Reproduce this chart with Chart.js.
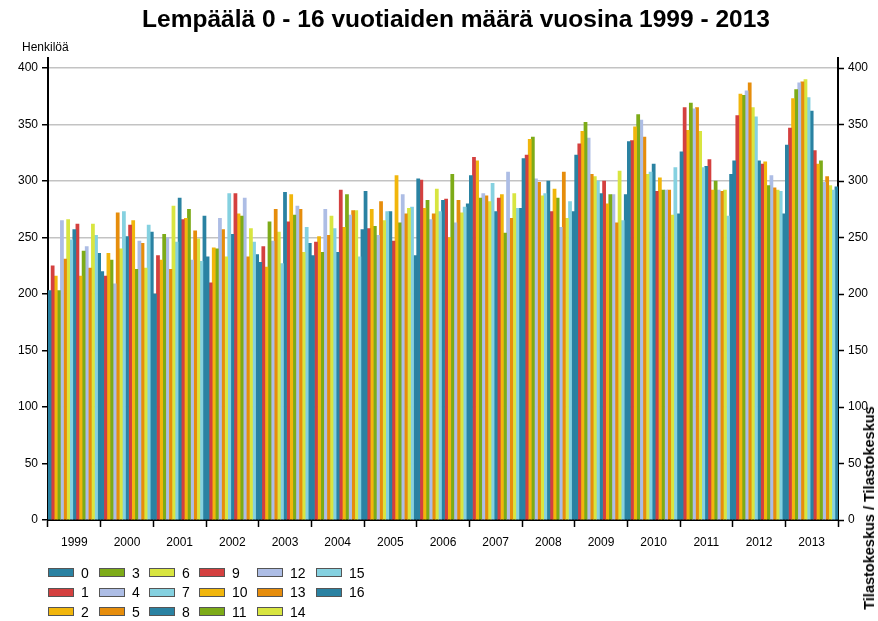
<!DOCTYPE html>
<html>
<head>
<meta charset="utf-8">
<script src="https://cdn.jsdelivr.net/npm/chart.js@4.4.0/dist/chart.umd.min.js"></script>
<style>
  body { margin: 0; background: #fff; font-family: 'Liberation Sans', Arial, sans-serif; color: #000; }
  #wrap { position: relative; width: 878px; height: 621px; overflow: hidden; }
  #chart { position: absolute; left: 0; top: 0; }
  #title { position: absolute; left: 0; top: 5px; width: 912px; text-align: center; font-weight: bold; font-size: 24.5px; }
  #unit { position: absolute; left: 22px; top: 40px; font-size: 12px; }
  #source { position: absolute; left: 869px; top: 508px; font-weight: bold; font-size: 14.5px; white-space: nowrap;
            transform: translate(-50%, -50%) rotate(-90deg); }
  #legend { position: absolute; left: 48px; top: 563px; display: grid; grid-auto-flow: column;
            grid-template-rows: repeat(3, 19.5px); grid-template-columns: 51px 50px 50px 58px 59px 60px; }
  .item { display: flex; align-items: center; font-size: 14px; }
  .box { width: 24px; height: 7px; border: 1px solid #555; margin-right: 7px; }
</style>
</head>
<body>
<div id="wrap">
  <canvas id="chart" width="878" height="621"></canvas>
  <div id="title">Lempäälä 0 - 16 vuotiaiden määrä vuosina 1999 - 2013</div>
  <div id="unit">Henkilöä</div>
  <div id="source">Tilastokeskus / Tilastokeskus</div>
  <div id="legend"></div>
</div>
<script>
const years = ['1999', '2000', '2001', '2002', '2003', '2004', '2005', '2006', '2007', '2008', '2009', '2010', '2011', '2012', '2013'];
const ages = ['0', '1', '2', '3', '4', '5', '6', '7', '8', '9', '10', '11', '12', '13', '14', '15', '16'];
const yTicks = [0, 50, 100, 150, 200, 250, 300, 350, 400];

// henkilöä per ikä (0..16) kunakin vuonna
const v1999 = [203, 225, 216, 203, 265, 231, 266, 248, 257, 262, 216, 238, 242, 223, 262, 252, 236];
const v2000 = [220, 216, 236, 230, 209, 272, 240, 273, 251, 261, 265, 222, 247, 245, 223, 261, 255];
const v2001 = [200, 234, 230, 253, 250, 222, 278, 246, 285, 266, 267, 275, 230, 256, 249, 229, 269];
const v2002 = [233, 210, 241, 240, 267, 257, 233, 289, 253, 289, 271, 269, 285, 233, 258, 246, 235];
const v2003 = [228, 242, 224, 264, 247, 275, 255, 227, 290, 264, 288, 270, 278, 275, 237, 259, 245];
const v2004 = [234, 246, 251, 237, 275, 252, 269, 258, 237, 292, 259, 288, 270, 274, 274, 233, 257];
const v2005 = [291, 258, 275, 260, 252, 282, 265, 273, 273, 247, 305, 263, 288, 271, 276, 277, 234];
const v2006 = [302, 301, 276, 283, 266, 271, 293, 273, 283, 284, 250, 306, 263, 283, 272, 277, 280];
const v2007 = [305, 321, 318, 285, 289, 287, 282, 298, 273, 285, 288, 254, 308, 267, 289, 276, 276];
const v2008 = [320, 323, 337, 339, 302, 299, 287, 289, 300, 273, 293, 285, 259, 308, 267, 282, 273];
const v2009 = [323, 333, 344, 352, 338, 306, 304, 300, 289, 300, 280, 288, 288, 263, 309, 265, 288];
const v2010 = [335, 336, 348, 359, 354, 339, 306, 308, 315, 291, 303, 292, 292, 292, 270, 312, 271];
const v2011 = [326, 365, 345, 369, 364, 365, 344, 312, 313, 319, 292, 300, 292, 291, 292, 269, 306];
const v2012 = [318, 358, 377, 376, 380, 387, 365, 357, 318, 315, 317, 296, 305, 294, 292, 291, 271];
const v2013 = [332, 347, 373, 381, 387, 388, 390, 374, 362, 327, 315, 318, 299, 304, 296, 292, 295];
const byYear = [v1999, v2000, v2001, v2002, v2003, v2004, v2005, v2006, v2007, v2008, v2009, v2010, v2011, v2012, v2013];

const palette = ['#2a82a2', '#d4403f', '#f1b60c', '#7dab18', '#adbde5', '#e68d0c', '#d8e540', '#85d1e0'];
const axisFont = { family: "'Liberation Sans', Arial, sans-serif", size: 12 };

const datasets = ages.map((age, i) => ({
    label: age,
    data: byYear.map(row => row[i]),
    backgroundColor: palette[i % palette.length],
    borderWidth: 0,
    categoryPercentage: 1,
    barPercentage: 1
}));

const setTicks = scale => { scale.ticks = yTicks.map(v => ({ value: v })); };

new Chart(document.getElementById('chart'), {
    type: 'bar',
    data: { labels: years, datasets: datasets },
    options: {
        responsive: false,
        animation: false,
        devicePixelRatio: 1,
        layout: { padding: { top: 58, left: 0, right: 0, bottom: 0 } },
        plugins: { legend: { display: false }, title: { display: false }, tooltip: { enabled: false } },
        scales: {
            x: {
                z: 2,
                grid: { offset: true, drawOnChartArea: false, tickLength: 7, tickColor: '#000', tickWidth: 1.5 },
                border: { color: '#000', width: 2 },
                ticks: { color: '#000', font: axisFont, padding: 8, maxRotation: 0, autoSkip: false },
                afterFit: s => { s.height = 101; }
            },
            y: {
                position: 'left',
                z: 1,
                min: 0,
                max: 409,
                afterBuildTicks: setTicks,
                grid: { color: 'rgba(135,135,135,0.5)', lineWidth: 1.5, tickColor: '#000', tickLength: 6, tickWidth: 1.5 },
                border: { color: '#000', width: 2 },
                ticks: { color: '#000', font: axisFont, padding: 4 },
                afterFit: s => { s.width = 48; }
            },
            y2: {
                position: 'right',
                z: 1,
                min: 0,
                max: 409,
                afterBuildTicks: setTicks,
                grid: { drawOnChartArea: false, tickColor: '#000', tickLength: 6, tickWidth: 1.5 },
                border: { color: '#000', width: 2 },
                ticks: { color: '#000', font: axisFont, padding: 4 },
                afterFit: s => { s.width = 40; }
            }
        }
    }
});

// legend: 3 rows, filled column by column
const legend = document.getElementById('legend');
datasets.forEach(ds => {
    const item = document.createElement('div');
    item.className = 'item';
    const box = document.createElement('span');
    box.className = 'box';
    box.style.background = ds.backgroundColor;
    item.appendChild(box);
    item.appendChild(document.createTextNode(ds.label));
    legend.appendChild(item);
});
</script>
</body>
</html>
